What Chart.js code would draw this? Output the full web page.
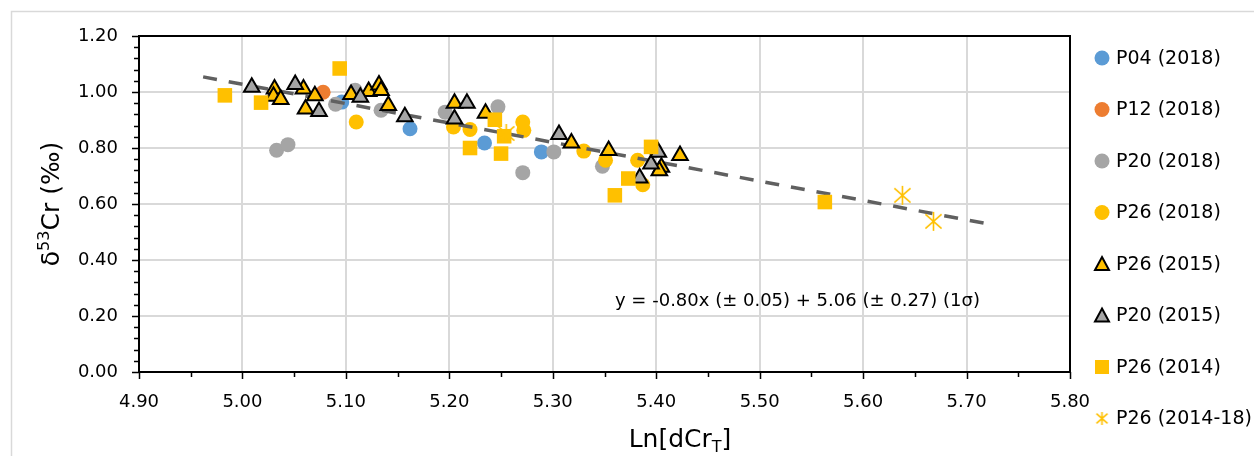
<!DOCTYPE html>
<html>
<head>
<meta charset="utf-8">
<script src="https://cdn.jsdelivr.net/npm/chart.js@4.4.0/dist/chart.umd.min.js"></script>
<style>
  html, body { margin: 0; padding: 0; background: #fff; }
  canvas { display: block; }
</style>
</head>
<body>
<canvas id="crChart" width="1254" height="456"></canvas>
<script>
// data: Ln[dCrT] (x) and d53Cr permil (y)
const p04X = [5.096, 5.162, 5.234, 5.289];
const p04Y = [0.964, 0.869, 0.818, 0.786];

const p12X = [5.078];
const p12Y = [0.999];

const p20aX = [5.033, 5.044, 5.090, 5.109, 5.134, 5.196, 5.247, 5.271, 5.301, 5.348, 5.399];
const p20aY = [0.792, 0.812, 0.956, 1.006, 0.935, 0.928, 0.947, 0.712, 0.786, 0.735, 0.792];

const p26aX = [5.110, 5.204, 5.220, 5.271, 5.272, 5.330, 5.351, 5.382, 5.387];
const p26aY = [0.893, 0.875, 0.866, 0.893, 0.863, 0.789, 0.756, 0.756, 0.669];

const p26bX = [5.031, 5.030, 5.037, 5.059, 5.061, 5.070, 5.105, 5.122, 5.132, 5.134, 5.141, 5.205, 5.235, 5.318, 5.354, 5.405, 5.403, 5.423];
const p26bY = [1.011, 0.985, 0.973, 1.011, 0.939, 0.987, 0.991, 1.002, 1.025, 1.005, 0.952, 0.960, 0.924, 0.818, 0.791, 0.731, 0.719, 0.773];

const p20bX = [5.009, 5.051, 5.074, 5.114, 5.157, 5.205, 5.217, 5.306, 5.384, 5.395, 5.402];
const p20bY = [1.017, 1.027, 0.930, 0.981, 0.912, 0.904, 0.960, 0.848, 0.693, 0.743, 0.785];

const p26cX = [4.983, 5.018, 5.094, 5.220, 5.244, 5.253, 5.250, 5.360, 5.373, 5.395, 5.563];
const p26cY = [0.988, 0.962, 1.084, 0.800, 0.901, 0.842, 0.780, 0.631, 0.691, 0.804, 0.607];

const p26dX = [5.255, 5.638, 5.668];
const p26dY = [0.852, 0.631, 0.538];

const trendX = [4.962, 5.718];
const trendY = [1.054, 0.531];

const seriesNames = ['P04 (2018)', 'P12 (2018)', 'P20 (2018)', 'P26 (2018)',
  'P26 (2015)', 'P20 (2015)', 'P26 (2014)', 'P26 (2014-18)'];
const eqText = 'y = -0.80x (\u00b1 0.05) + 5.06 (\u00b1 0.27) (1\u03c3)';

const FONT = '"DejaVu Sans", sans-serif';
const BLUE = '#5B9BD5', ORANGE = '#ED7D31', GREY = '#A5A5A5', GOLD = '#FFC000';

const pts = (xs, ys) => xs.map((x, i) => ({ x: x, y: ys[i] }));

// excel style asterisk marker (X plus a vertical bar)
function makeStar(size, lw) {
  const c = document.createElement('canvas');
  c.width = size; c.height = size;
  const g = c.getContext('2d');
  const m = size / 2, a = size / 2 - 1;
  g.strokeStyle = GOLD;
  g.lineWidth = lw;
  g.beginPath();
  g.moveTo(m, m - a); g.lineTo(m, m + a);
  g.moveTo(m - a * 0.85, m - a * 0.75); g.lineTo(m + a * 0.85, m + a * 0.75);
  g.moveTo(m + a * 0.85, m - a * 0.75); g.lineTo(m - a * 0.85, m + a * 0.75);
  g.stroke();
  return c;
}
const starBig = makeStar(21, 1.6);
const starSmall = makeStar(15, 1.6);

function scatterSet(label, data, style, order) {
  return Object.assign({ type: 'scatter', label: label, data: data, order: order,
    pointBorderWidth: 0, pointHoverRadius: 0 }, style);
}

const datasets = [
  scatterSet(seriesNames[0], pts(p04X, p04Y), { pointStyle: 'circle', pointRadius: 7.5, backgroundColor: BLUE, borderColor: BLUE }, 10),
  scatterSet(seriesNames[1], pts(p12X, p12Y), { pointStyle: 'circle', pointRadius: 7.5, backgroundColor: ORANGE, borderColor: ORANGE }, 9),
  scatterSet(seriesNames[2], pts(p20aX, p20aY), { pointStyle: 'circle', pointRadius: 7.5, backgroundColor: GREY, borderColor: GREY }, 8),
  scatterSet(seriesNames[3], pts(p26aX, p26aY), { pointStyle: 'circle', pointRadius: 7.5, backgroundColor: GOLD, borderColor: GOLD }, 7),
  {
    type: 'line', label: 'trend', data: pts(trendX, trendY), order: 6,
    borderColor: '#606060', borderWidth: 3.5, borderDash: [14, 12],
    pointRadius: 0, fill: false, showLine: true
  },
  scatterSet(seriesNames[4], pts(p26bX, p26bY), { pointStyle: 'triangle', pointRadius: 9, backgroundColor: GOLD, borderColor: '#000', pointBorderWidth: 2 }, 5),
  scatterSet(seriesNames[5], pts(p20bX, p20bY), { pointStyle: 'triangle', pointRadius: 9, backgroundColor: GREY, borderColor: '#000', pointBorderWidth: 2 }, 4),
  scatterSet(seriesNames[6], pts(p26cX, p26cY), { pointStyle: 'rect', pointRadius: 10.3, backgroundColor: GOLD, borderColor: GOLD }, 3),
  scatterSet(seriesNames[7], pts(p26dX, p26dY), { pointStyle: starBig, pointRadius: 10, backgroundColor: GOLD, borderColor: GOLD }, 2)
];

// frame, minor ticks, axis titles, equation and legend
const extras = {
  id: 'extras',
  afterDraw(chart) {
    const ctx = chart.ctx;
    const a = chart.chartArea;
    const xs = chart.scales.x, ys = chart.scales.y;
    ctx.save();

    // outer chart border
    ctx.strokeStyle = '#d9d9d9';
    ctx.lineWidth = 1.5;
    ctx.strokeRect(11.5, 11.5, 1400, 600);

    // plot frame
    ctx.strokeStyle = '#000';
    ctx.lineWidth = 2;
    ctx.strokeRect(a.left, a.top, a.right - a.left, a.bottom - a.top);

    // tick marks
    ctx.lineWidth = 1.5;
    ctx.beginPath();
    for (let i = 0; i <= 30; i++) {
      const py = Math.round(ys.getPixelForValue(i * 0.04)) + 0.5;
      const len = i % 5 === 0 ? 7 : 5;
      ctx.moveTo(a.left, py); ctx.lineTo(a.left - len, py);
    }
    for (let i = 0; i <= 18; i++) {
      const px = Math.round(xs.getPixelForValue(4.9 + i * 0.05)) + 0.5;
      const len = i % 2 === 0 ? 7 : 5;
      ctx.moveTo(px, a.bottom); ctx.lineTo(px, a.bottom + len);
    }
    ctx.stroke();

    ctx.fillStyle = '#000';
    // x title: Ln[dCr_T]
    const tf = 25, sf = 16;
    ctx.font = tf + 'px ' + FONT;
    const w1 = ctx.measureText('Ln[dCr').width;
    const w3 = ctx.measureText(']').width;
    ctx.font = sf + 'px ' + FONT;
    const w2 = ctx.measureText('T').width;
    let x0 = 680 - (w1 + w2 + w3) / 2;
    const by = 447;
    ctx.textBaseline = 'alphabetic';
    ctx.textAlign = 'left';
    ctx.font = tf + 'px ' + FONT;
    ctx.fillText('Ln[dCr', x0, by);
    ctx.font = sf + 'px ' + FONT;
    ctx.fillText('T', x0 + w1, by + 5);
    ctx.font = tf + 'px ' + FONT;
    ctx.fillText(']', x0 + w1 + w2, by);

    // y title: d53Cr (permil), rotated
    ctx.save();
    ctx.translate(59, (a.top + a.bottom) / 2);
    ctx.rotate(-Math.PI / 2);
    ctx.font = tf + 'px ' + FONT;
    const v1 = ctx.measureText('\u03b4').width;
    const v3 = ctx.measureText('Cr (\u2030)').width;
    ctx.font = sf + 'px ' + FONT;
    const v2 = ctx.measureText('53').width;
    let y0 = -(v1 + v2 + v3) / 2;
    ctx.font = tf + 'px ' + FONT;
    ctx.fillText('\u03b4', y0, 0);
    ctx.font = sf + 'px ' + FONT;
    ctx.fillText('53', y0 + v1, -10);
    ctx.font = tf + 'px ' + FONT;
    ctx.fillText('Cr (\u2030)', y0 + v1 + v2, 0);
    ctx.restore();

    // regression equation
    ctx.font = '18px ' + FONT;
    ctx.textBaseline = 'middle';
    ctx.fillText(eqText, 615, 301);

    // legend
    const lx = 1102, tx = 1116;
    ctx.font = '19px ' + FONT;
    seriesNames.forEach((name, i) => {
      const ly = 58 + i * 51.5;
      ctx.lineWidth = 2;
      ctx.strokeStyle = '#000';
      if (i < 4) {
        ctx.fillStyle = [BLUE, ORANGE, GREY, GOLD][i];
        ctx.beginPath(); ctx.arc(lx, ly, 7.5, 0, Math.PI * 2); ctx.fill();
      } else if (i < 6) {
        ctx.fillStyle = i === 4 ? GOLD : GREY;
        ctx.beginPath();
        ctx.moveTo(lx, ly - 7); ctx.lineTo(lx + 7, ly + 6); ctx.lineTo(lx - 7, ly + 6);
        ctx.closePath(); ctx.fill(); ctx.stroke();
      } else if (i === 6) {
        ctx.fillStyle = GOLD;
        ctx.fillRect(lx - 7, ly - 7, 14, 14);
      } else {
        ctx.drawImage(starSmall, lx - 7.5, ly - 7.5);
      }
      ctx.fillStyle = '#000';
      ctx.fillText(name, tx, ly + 1);
    });

    ctx.restore();
  }
};

new Chart(document.getElementById('crChart'), {
  data: { datasets: datasets },
  options: {
    responsive: false,
    animation: false,
    devicePixelRatio: 1,
    layout: { padding: { left: 0, top: 36, right: 184, bottom: 0 } },
    plugins: {
      legend: { display: false },
      tooltip: { enabled: false }
    },
    scales: {
      x: {
        type: 'linear',
        min: 4.9, max: 5.8,
        afterFit: s => { s.height = 84; },
        ticks: {
          stepSize: 0.1,
          padding: 20,
          color: '#000',
          font: { family: FONT, size: 18 },
          callback: v => v.toFixed(2)
        },
        grid: { color: '#d9d9d9', lineWidth: 2, drawTicks: false },
        border: { display: false }
      },
      y: {
        type: 'linear',
        min: 0, max: 1.2,
        afterFit: s => { s.width = 139; },
        ticks: {
          stepSize: 0.2,
          padding: 21,
          color: '#000',
          font: { family: FONT, size: 18 },
          callback: v => v.toFixed(2)
        },
        grid: { color: '#d9d9d9', lineWidth: 2, drawTicks: false },
        border: { display: false }
      }
    }
  },
  plugins: [extras]
});
</script>
</body>
</html>
